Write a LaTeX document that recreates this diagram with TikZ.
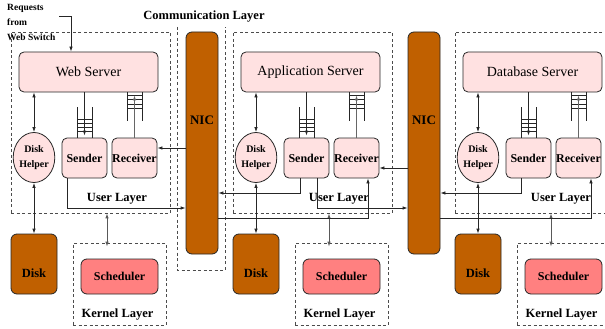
\documentclass[tikz,border=0pt]{standalone}
\usepackage{fontspec}
\setmainfont{Liberation Serif}
\usetikzlibrary{arrows.meta,shapes.geometric}
\definecolor{pinkfill}{RGB}{255,225,225}
\definecolor{nicbrown}{RGB}{192,96,0}
\definecolor{schedred}{RGB}{255,128,128}
\tikzset{
  outl/.style={draw=black!85, line width=0.8pt},
  srvbox/.style={outl, fill=pinkfill, rounded corners=5pt, minimum width=139pt, minimum height=40pt, inner sep=0pt, font=\fontsize{14}{16}\selectfont},
  srbox/.style={outl, fill=pinkfill, rounded corners=5pt, minimum width=45pt, minimum height=40pt, inner sep=0pt, font=\bfseries\fontsize{12}{14}\selectfont},
  helperbox/.style={outl, ellipse, fill=pinkfill, minimum width=38pt, minimum height=50pt, inner sep=0pt, align=center, font=\bfseries\fontsize{10}{15}\selectfont},
  brownbox/.style={outl, fill=nicbrown, rounded corners=6pt, inner sep=0pt},
  diskbox/.style={brownbox, minimum width=46pt, minimum height=60pt},
  nicbox/.style={brownbox, minimum width=32pt, minimum height=222pt},
  schedbox/.style={outl, fill=schedred, rounded corners=6pt, minimum width=77pt, minimum height=35pt, inner sep=0pt, font=\bfseries\fontsize{12}{14}\selectfont},
  layerbox/.style={draw=black!70, line width=0.8pt, dash pattern=on 3pt off 2.5pt, inner sep=0pt},
  lbl/.style={font=\bfseries\fontsize{12.5}{14}\selectfont, inner sep=0pt},
  conn/.style={draw=black!85, line width=0.8pt},
  arr/.style={conn, -{Latex[length=5pt,width=3.5pt]}},
  darr/.style={conn, {Latex[length=5pt,width=3.5pt]}-{Latex[length=5pt,width=3.5pt]}},
  garr/.style={darr, draw=black!65, line width=0.9pt},
  queue/.style={draw=black!85, line width=0.7pt},
}
\begin{document}
\begin{tikzpicture}[x=1pt,y=-1pt]
\useasboundingbox (0,0) rectangle (605,329);
\clip (0,0) rectangle (605,329);
% communication layer frame (open top)
\draw[layerbox] (177,27) -- (177,270) -- (225,270) -- (225,27);
\node[lbl] (commlbl) at (204,17) {Communication Layer};
\foreach \i/\sname in {0/Web Server,1/Application Server,2/Database Server}{
 \begin{scope}[shift={(\i*222,0)}]
  \node[layerbox, minimum width=159pt, minimum height=181pt] (user\i) at (90.5,122.5) {};
  \node[layerbox, minimum width=93pt, minimum height=82pt] (ker\i) at (119.5,284) {};
  \node[srvbox] (srv\i) at (88.5,72) {\sname};
  \node[helperbox] (hel\i) at (34,157.5) {Disk\\Helper};
  \node[srbox] (snd\i) at (84.5,158) {Sender};
  \node[srbox] (rcv\i) at (134.5,158) {Receiver};
  \node[diskbox, label={[lbl, yshift=-9pt]center:Disk}] (disk\i) at (34,264) {};
  \node[schedbox] (sch\i) at (119.5,276.5) {Scheduler};
  \node[lbl] (ul\i) at (117,199) {User Layer};
  \node[lbl] (kl\i) at (117.5,315) {Kernel Layer};
  % sender queue
  \draw[queue] (77,107) -- (77,138) (92,107) -- (92,138);
  \foreach \y in {119,123,127,131} \draw[queue] (77,\y) -- (92,\y);
  % receiver queue
  \draw[queue] (127,92) -- (127,121) (142,92) -- (142,121);
  \foreach \y in {95,99.5,104,108.5} \draw[queue] (127,\y) -- (142,\y);
  \draw[arr, shorten >=2pt] (srv\i.south -| snd\i.north) -- (snd\i.north);
  \draw[arr, draw=black!60, shorten >=3pt] (rcv\i.north) -- (rcv\i.north |- srv\i.south);
  \draw[darr] (srv\i.south -| hel\i.north) -- (hel\i.north);
  \draw[darr] (hel\i.south) -- (disk\i.north);
  \draw[garr] ([xshift=-12.5pt]ker\i.north |- user\i.south) -- ([xshift=-12.5pt,yshift=-4pt]ker\i.north);
 \end{scope}
}
% NICs
\node[nicbox, label={[font=\bfseries\fontsize{13}{15}\selectfont, yshift=23pt]center:NIC}] (nic1) at (202,143) {};
\node[nicbox, label={[font=\bfseries\fontsize{13}{15}\selectfont, yshift=23pt]center:NIC}] (nic2) at (424,143) {};
% requests
\node[anchor=north west, align=left, inner sep=0pt, font=\bfseries\fontsize{9.5}{15}\selectfont] (req) at (7,4) {Requests\\from\\Web Switch};
\coordinate (reqA) at (59,16);
\draw[arr] (reqA) -| ([xshift=-17.5pt]srv0.north);
% levels
\coordinate (lvlA) at (0,193);
\coordinate (lvlB) at (0,208);
\coordinate (lvlC) at (0,218);
\coordinate (in0) at ([yshift=10pt]rcv0.east);
\draw[arr] (nic1.west |- in0) -- (in0);
\draw[arr] ([xshift=-17.5pt]snd0.south) |- (nic1.west |- lvlB);
\coordinate (in1) at ([yshift=-10pt]rcv1.east);
\draw[arr] (nic2.west |- in1) -- (in1);
\draw[arr] (nic1.east |- lvlC) -| ([xshift=11.5pt]rcv1.south);
\draw[arr] ([xshift=-6.5pt]snd1.south) |- (nic1.east |- lvlA);
\draw[arr] ([xshift=10.5pt]snd1.south) |- (nic2.west |- lvlB);
\draw[arr] (nic2.east |- lvlC) -| ([xshift=12.5pt]rcv2.south);
\draw[arr] ([xshift=-7pt]snd2.south) |- (nic2.east |- lvlA);
\end{tikzpicture}
\end{document}
